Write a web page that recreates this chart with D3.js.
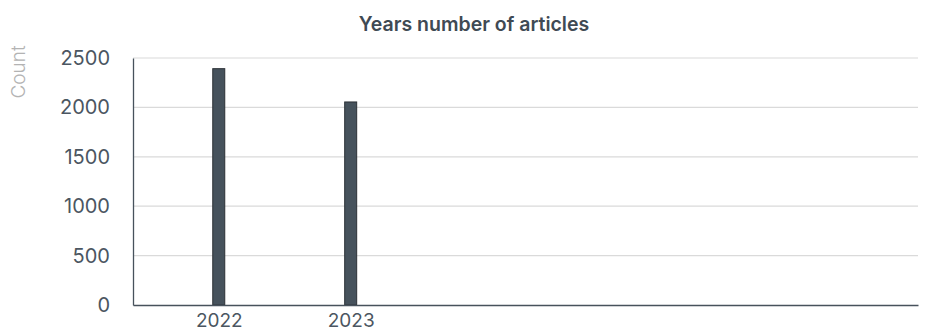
<!DOCTYPE html>
<html>
<head>
<meta charset="utf-8">
<script src="https://cdn.jsdelivr.net/npm/d3@7"></script>
<style>
  html, body { margin: 0; padding: 0; background: #ffffff; }
  svg { display: block; }
</style>
</head>
<body>
<div id="chart"></div>
<script>
// Articles published per year
const years = [2022, 2023];
const counts = [2392, 2055];
const yTicks = [0, 500, 1000, 1500, 2000, 2500];
const titleText = "Years number of articles";
const yLabel = "Count";

const width = 947, height = 333;
const margin = { top: 58, right: 29, bottom: 28, left: 133 };
const innerW = width - margin.left - margin.right;
const innerH = height - margin.top - margin.bottom;

const svg = d3.select("#chart").append("svg")
  .attr("width", width)
  .attr("height", height);

const g = svg.append("g").attr("transform", `translate(${margin.left},${margin.top})`);

// Continuous year axis, with room to the right of the last year
const x = d3.scaleLinear().domain([2021.35, 2027.3]).range([0, innerW]);
const y = d3.scaleLinear().domain([0, 2500]).range([innerH, 0]);

const fontFamily = "Inter, 'Liberation Sans', Arial, sans-serif";

// Horizontal gridlines
g.append("g")
  .selectAll("line")
  .data(yTicks.filter(t => t > 0))
  .join("line")
  .attr("x1", 0)
  .attr("x2", innerW)
  .attr("y1", d => y(d))
  .attr("y2", d => y(d))
  .attr("stroke", "#dadada")
  .attr("stroke-width", 1.2);

// Bars
const barW = 12;
g.append("g")
  .selectAll("rect")
  .data(years.map((yr, i) => ({ yr, v: counts[i] })))
  .join("rect")
  .attr("x", d => x(d.yr) - barW / 2)
  .attr("y", d => y(d.v))
  .attr("width", barW)
  .attr("height", d => innerH - y(d.v))
  .attr("fill", "#46525c")
  .attr("stroke", "#2c3136")
  .attr("stroke-width", 1);

// Y axis
const yAxis = g.append("g")
  .call(d3.axisLeft(y).tickValues(yTicks).tickFormat(d3.format("d")).tickSize(0).tickPadding(23));
yAxis.select(".domain").attr("stroke", "#47525c").attr("stroke-width", 1.3);
yAxis.selectAll("text")
  .attr("font-family", fontFamily)
  .attr("font-size", 20)
  .attr("fill", "#4b5661");

// X axis
const xAxis = g.append("g")
  .attr("transform", `translate(0,${innerH})`)
  .call(d3.axisBottom(x).tickValues(years).tickFormat(d3.format("d")).tickSize(0).tickPadding(9));
xAxis.select(".domain").attr("stroke", "#47525c").attr("stroke-width", 1.3);
xAxis.selectAll("text")
  .attr("font-family", fontFamily)
  .attr("font-size", 19)
  .attr("fill", "#4b5661");

// Title
svg.append("text")
  .attr("x", 474)
  .attr("y", 31)
  .attr("text-anchor", "middle")
  .attr("font-family", fontFamily)
  .attr("font-size", 19.5)
  .attr("font-weight", 600)
  .attr("fill", "#3f4a54")
  .text(titleText);

// Y axis label
svg.append("text")
  .attr("transform", "translate(25,72) rotate(-90)")
  .attr("text-anchor", "middle")
  .attr("font-family", fontFamily)
  .attr("font-size", 19)
  .attr("font-weight", 300)
  .attr("fill", "#b3b3b3")
  .text(yLabel);
</script>
</body>
</html>
